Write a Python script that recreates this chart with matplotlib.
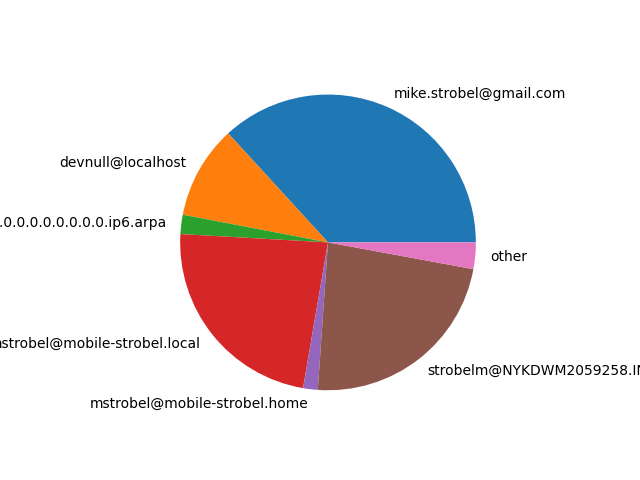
import matplotlib
matplotlib.use("Agg")
import matplotlib.pyplot as plt

# commit share per author (percent)
authors = [
    "mike.strobel@gmail.com",
    "devnull@localhost",
    "mstrobel@1.0.0.0.0.0.0.0.0.0.0.0.0.0.0.0.0.0.0.0.0.0.0.0.0.0.0.0.0.0.0.0.ip6.arpa",
    "mstrobel@mobile-strobel.local",
    "mstrobel@mobile-strobel.home",
    "strobelm@NYKDWM2059258.INTRANET.local",
    "other",
]
share = [36.8, 10.2, 2.1, 23.2, 1.6, 23.2, 2.9]

fig, ax = plt.subplots(figsize=(6.4, 4.8), dpi=100)
ax.pie(share, labels=authors)

plt.savefig("out.png")
